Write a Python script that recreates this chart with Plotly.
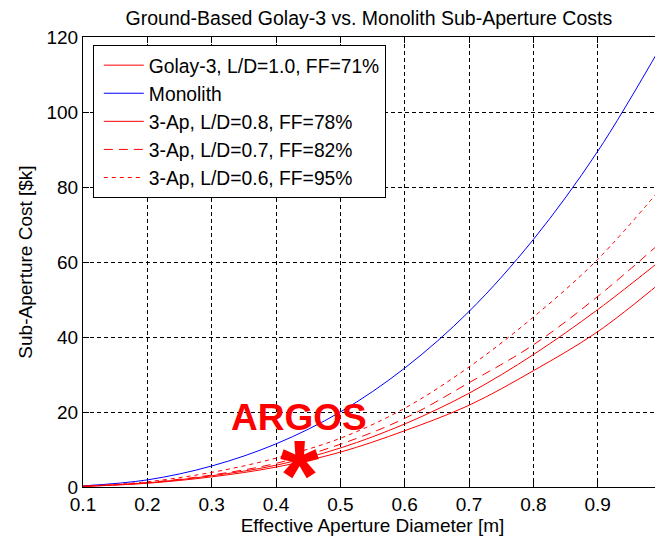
import plotly.graph_objects as go

diam = [0.1, 0.2, 0.3, 0.4, 0.5, 0.6, 0.7, 0.8, 0.9, 1.0]
golay3 = [0.15, 1.0, 2.7, 5.3, 9.3, 15.0, 21.8, 31.0, 41.4, 54.8]
monolith = [0.3, 1.9, 5.6, 11.5, 20.0, 31.7, 46.8, 66.0, 89.5, 118.0]
ap_08 = [0.17, 1.1, 3.0, 5.8, 10.4, 16.8, 25.0, 35.3, 47.3, 60.7]
ap_07 = [0.18, 1.2, 3.2, 6.3, 11.4, 18.3, 27.8, 37.9, 50.8, 65.5]
ap_06 = [0.22, 1.4, 3.9, 7.7, 13.0, 21.0, 32.0, 45.3, 60.7, 80.0]
argos_x = [0.436]
argos_y = [6.1]
argos_label_y = 18.5

x_ticks = [0.1, 0.2, 0.3, 0.4, 0.5, 0.6, 0.7, 0.8, 0.9, 1.0]
x_tick_labels = ["0.1", "0.2", "0.3", "0.4", "0.5", "0.6", "0.7", "0.8", "0.9", "1"]
y_ticks = [0, 20, 40, 60, 80, 100, 120]

FONT = "Liberation Sans, Arial, sans-serif"
RED = "#ff0000"
BLUE = "#0000ff"

fig = go.Figure()
series = [
    ("Golay-3, L/D=1.0, FF=71%", golay3, RED, "solid"),
    ("Monolith", monolith, BLUE, "solid"),
    ("3-Ap, L/D=0.8, FF=78%", ap_08, RED, "solid"),
    ("3-Ap, L/D=0.7, FF=82%", ap_07, RED, "9px,6px"),
    ("3-Ap, L/D=0.6, FF=95%", ap_06, RED, "4px,4px"),
]
for name, ys, col, dash in series:
    fig.add_trace(go.Scatter(x=diam, y=ys, name=name, mode="lines",
                             line=dict(color=col, width=1, dash=dash, shape="spline")))

fig.add_trace(go.Scatter(x=argos_x, y=argos_y, mode="markers", showlegend=False,
                         hoverinfo="skip", marker=dict(size=1, color="rgba(0,0,0,0)")))

fig.add_annotation(x=argos_x[0], y=argos_y[0], text="<b>*</b>", showarrow=False,
                   font=dict(family=FONT, size=100, color=RED), yshift=-11)
fig.add_annotation(x=argos_x[0], y=argos_label_y, text="<b>ARGOS</b>", showarrow=False,
                   font=dict(family=FONT, size=37, color=RED))

axis_common = dict(showline=True, linecolor="black", linewidth=1, mirror="ticks",
                   ticks="inside", ticklen=6, tickcolor="black", automargin=False,
                   showgrid=True, gridcolor="black", gridwidth=1, griddash="4px,3px",
                   zeroline=False, tickfont=dict(family=FONT, size=19, color="black"))

fig.update_xaxes(range=[0.1, 1.0], tickvals=x_ticks, ticktext=x_tick_labels,
                 title=dict(text="Effective Aperture Diameter [m]",
                            font=dict(family=FONT, size=19, color="black"), standoff=4),
                 **axis_common)
fig.update_yaxes(range=[0, 120], tickvals=y_ticks,
                 title=dict(text="Sub-Aperture Cost [$k]",
                            font=dict(family=FONT, size=19, color="black"), standoff=8),
                 **axis_common)

# the page body has an 8px margin, so the figure is sized and offset to compensate
fig.update_layout(
    width=655, height=533,
    margin=dict(l=75, r=1, t=29, b=54, autoexpand=False),
    paper_bgcolor="white", plot_bgcolor="white",
    title=dict(text="Ground-Based Golay-3 vs. Monolith Sub-Aperture Costs",
               x=0.551, xanchor="center", y=1.0, yanchor="top", pad=dict(t=3),
               font=dict(family=FONT, size=19.5, color="black")),
    legend=dict(x=0.017, y=0.982, xanchor="left", yanchor="top",
                bgcolor="white", bordercolor="black", borderwidth=1,
                font=dict(family=FONT, size=19.3, color="black"),
                itemwidth=40, indentation=5, tracegroupgap=0),
    showlegend=True,
)

fig.write_html("out.html")
